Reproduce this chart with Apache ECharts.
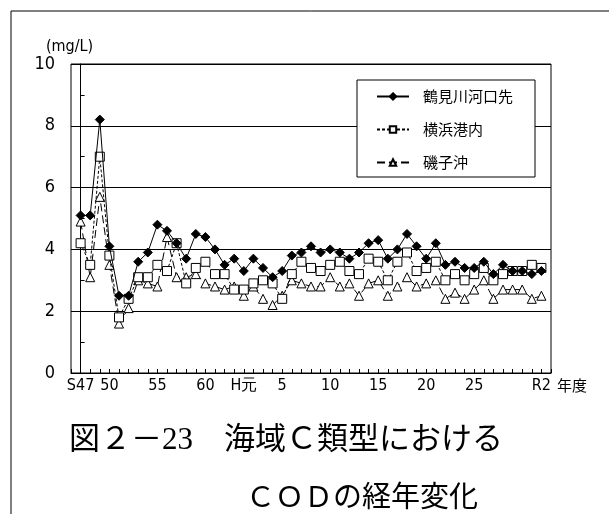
<!DOCTYPE html>
<html>
<head>
<meta charset="utf-8">
<script src="https://cdn.jsdelivr.net/npm/echarts@6/dist/echarts.min.js"></script>
<style>
html,body{margin:0;padding:0;background:#fff;}
#c{width:609px;height:514px;}
</style>
</head>
<body>
<div id="c"></div>
<script>
// Fiscal years S47 (1972) ... R2 (2020)
const categories = ['S47','S48','S49','S50','S51','S52','S53','S54','S55','S56','S57','S58','S59','S60','S61','S62','S63',
  'H元','H2','H3','H4','H5','H6','H7','H8','H9','H10','H11','H12','H13','H14','H15','H16','H17','H18','H19','H20',
  'H21','H22','H23','H24','H25','H26','H27','H28','H29','H30','R元','R2'];
// tick labels shown on the x axis
const tickLabels = {'S47':'S47','S50':'50','S55':'55','S60':'60','H元':'H元','H5':'5','H10':'10','H15':'15','H20':'20','H25':'25','R2':'R2'};
const yTicks = [0,2,4,6,8,10];

const seriesNames = ['鶴見川河口先','横浜港内','磯子沖'];
const tsurumi = [5.1,5.1,8.2,4.1,2.5,2.5,3.6,3.9,4.8,4.6,4.2,3.7,4.5,4.4,4.0,3.5,3.7,
  3.3,3.7,3.4,3.1,3.3,3.8,3.9,4.1,3.9,4.0,3.9,3.7,3.9,4.2,4.3,3.7,4.0,4.5,4.1,3.7,
  4.2,3.5,3.6,3.4,3.4,3.6,3.2,3.5,3.3,3.3,3.2,3.3];
const yokohama = [4.2,3.5,7.0,3.8,1.8,2.4,3.1,3.1,3.5,3.3,4.2,2.9,3.4,3.6,3.2,3.2,2.7,
  2.7,2.9,3.0,2.9,2.4,3.2,3.6,3.4,3.3,3.5,3.6,3.3,3.2,3.7,3.6,3.0,3.6,3.9,3.3,3.4,
  3.6,3.0,3.2,3.0,3.2,3.4,3.0,3.2,3.3,3.3,3.5,3.4];
const isogo = [4.9,3.1,5.7,3.5,1.6,2.1,3.0,2.9,2.8,4.4,3.1,3.1,3.2,2.9,2.8,2.7,2.8,
  2.5,2.8,2.4,2.2,2.5,3.0,2.9,2.8,2.8,3.1,2.8,2.9,2.5,2.9,3.0,2.5,2.8,3.1,2.8,2.9,
  3.0,2.4,2.6,2.4,2.7,3.0,2.4,2.7,2.7,2.7,2.4,2.5];

const chart = echarts.init(document.getElementById('c'), null, {renderer:'canvas'});
const pairs = arr => arr.map((v,i)=>[i,v]);
const numFont = "'Liberation Sans Narrow','DejaVu Sans Condensed','Liberation Sans',sans-serif";
const jpFont = "'Noto Sans CJK JP',sans-serif";
const capFont = "'Liberation Serif','Noto Sans CJK JP',serif";

chart.setOption({
  animation:false,
  backgroundColor:'#fff',
  graphic:[{type:'rect',shape:{x:11,y:11,width:700,height:600},style:{fill:'none',stroke:'#000',lineWidth:1},silent:true}],
  title:[
    {text:'図２－23　海域Ｃ類型における',left:64,top:420,textStyle:{fontFamily:capFont,fontSize:31,fontWeight:'normal',color:'#000'}},
    {text:'ＣＯＤの経年変化',left:241,top:480,textStyle:{fontFamily:capFont,fontSize:29,fontWeight:'normal',color:'#000'}}
  ],
  legend:{
    orient:'vertical',left:357,top:80,
    data:seriesNames,
    itemWidth:32,itemHeight:8,itemGap:18,
    padding:[9,22,7,19],
    borderColor:'#000',borderWidth:1,backgroundColor:'#fff',
    textStyle:{fontFamily:jpFont,fontSize:15,color:'#000',padding:[0,0,0,9],lineHeight:14}
  },
  grid:{left:71,top:64,right:58,bottom:141,show:true,borderColor:'#000',borderWidth:1,containLabel:false},
  xAxis:{
    type:'value',min:-1,max:categories.length,interval:1,
    name:'年度',nameLocation:'end',nameGap:1,
    nameTextStyle:{fontFamily:jpFont,fontSize:15,color:'#000',verticalAlign:'top',align:'left',padding:[5,0,0,0]},
    axisLine:{lineStyle:{color:'#000',width:1}},
    axisTick:{inside:true,length:4,lineStyle:{color:'#000'}},
    splitLine:{show:false},
    axisLabel:{margin:5,fontFamily:numFont,fontSize:16,color:'#000',
      showMinLabel:true,showMaxLabel:true,
      formatter:v=>{const c=categories[v];return (c!==undefined && tickLabels[c])?tickLabels[c]:'';}}
  },
  yAxis:{
    type:'value',min:yTicks[0],max:yTicks[yTicks.length-1],interval:2,
    name:'(mg/L)',nameLocation:'end',nameGap:5,
    nameTextStyle:{fontFamily:numFont,fontSize:16,color:'#000',padding:[0,22,0,0]},
    axisLine:{show:true,lineStyle:{color:'#000',width:1}},
    axisTick:{show:true,inside:true,length:4,lineStyle:{color:'#000'}},
    minorTick:{show:true,splitNumber:2,length:4,lineStyle:{color:'#000'}},
    splitLine:{show:true,lineStyle:{color:'#000',width:1}},
    axisLabel:{margin:16,fontFamily:numFont,fontSize:18,color:'#000'}
  },
  series:[
    {name:seriesNames[2],type:'line',data:pairs(isogo),symbol:'triangle',symbolSize:9,z:2,
      lineStyle:{color:'#000',width:1,type:[8,4]},itemStyle:{color:'#fff',borderColor:'#000',borderWidth:1}},
    {name:seriesNames[1],type:'line',data:pairs(yokohama),symbol:'rect',symbolSize:9,z:3,
      lineStyle:{color:'#000',width:1,type:[3,2]},itemStyle:{color:'#fff',borderColor:'#000',borderWidth:1}},
    {name:seriesNames[0],type:'line',data:pairs(tsurumi),symbol:'diamond',symbolSize:9,z:4,
      lineStyle:{color:'#000',width:1,type:'solid'},itemStyle:{color:'#000',borderColor:'#000',borderWidth:1}}
  ]
});
</script>
</body>
</html>
